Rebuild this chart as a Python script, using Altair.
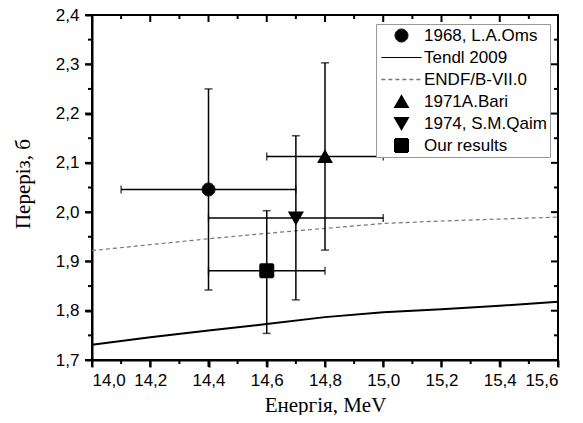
import altair as alt
import pandas as pd

# ---- data ----
energy = [14.0, 14.2, 14.4, 14.6, 14.8, 15.0, 15.2, 15.4, 15.6]
tendl = [1.731, 1.746, 1.760, 1.773, 1.787, 1.797, 1.803, 1.810, 1.818]
endf = [1.922, 1.934, 1.946, 1.957, 1.967, 1.977, 1.982, 1.986, 1.990]

exp_names = ["1968, L.A.Oms", "1971A.Bari", "1974, S.M.Qaim", "Our results"]
exp_x = [14.4, 14.8, 14.7, 14.6]
exp_xlo = [14.1, 14.6, 14.4, 14.4]
exp_xhi = [14.7, 15.0, 15.0, 14.8]
exp_y = [2.046, 2.113, 1.988, 1.881]
exp_ylo = [1.842, 1.923, 1.822, 1.754]
exp_yhi = [2.250, 2.303, 2.155, 2.003]

legend_order = ["1968, L.A.Oms", "Tendl 2009", "ENDF/B-VII.0",
                "1971A.Bari", "1974, S.M.Qaim", "Our results"]
legend_shapes = ["circle", "M-3.1,0H3.1", "M-3.1,0H3.1",
                 "triangle-up", "triangle-down", "square"]
legend_colors = ["black", "black", "#777777", "black", "black", "black"]
legend_dash = [[1, 0], [1, 0], [4, 3], [1, 0], [1, 0], [1, 0]]
legend_width = [1, 2, 1.2, 1, 1, 1]
legend_size = [169, 169, 169, 250, 250, 115]

x_major = [14.0, 14.2, 14.4, 14.6, 14.8, 15.0, 15.2, 15.4, 15.6]
x_minor = [14.1, 14.3, 14.5, 14.7, 14.9, 15.1, 15.3, 15.5]
y_major = [1.7, 1.8, 1.9, 2.0, 2.1, 2.2, 2.3, 2.4]
y_minor = [1.75, 1.85, 1.95, 2.05, 2.15, 2.25, 2.35]
x_lim = [14.0, 15.6]
y_lim = [1.7, 2.4]

W, H = 466, 345

model_tendl = pd.DataFrame({"x": energy, "y": tendl})
model_endf = pd.DataFrame({"x": energy, "y": endf})
exp_df = pd.DataFrame({"series": exp_names, "x": exp_x, "xlo": exp_xlo,
                       "xhi": exp_xhi, "y": exp_y, "ylo": exp_ylo, "yhi": exp_yhi})

xs = alt.Scale(domain=x_lim, nice=False, zero=False)
ys = alt.Scale(domain=y_lim, nice=False, zero=False)

LABEL_FONT = "Liberation Sans"
TITLE_FONT = "Liberation Serif"
COMMA = "replace(format(datum.value, '.1f'), '.', ',')"

x_main = alt.Axis(values=x_major, ticks=True, tickSize=7, tickWidth=2, tickColor="black",
                  domainColor="black", domainWidth=2, grid=False,
                  labelExpr=COMMA,
                  labelFont=LABEL_FONT, labelFontSize=17, labelColor="black",
                  labelPadding=5, labelOverlap=False,
                  title="Енергія, MeV", titleFont=TITLE_FONT, titleFontSize=21,
                  titleFontWeight="normal", titleColor="black",
                  titleX=W / 2, titleY=51, titleBaseline="alphabetic", titleAlign="center")
y_main = alt.Axis(values=y_major, ticks=True, tickSize=7, tickWidth=2, tickColor="black",
                  domainColor="black", domainWidth=2, grid=False,
                  labelExpr=COMMA,
                  labelFont=LABEL_FONT, labelFontSize=17, labelColor="black",
                  labelPadding=6, labelOverlap=False,
                  title="Переріз, б", titleFont=TITLE_FONT, titleFontSize=21,
                  titleFontWeight="normal", titleColor="black", titleAngle=270,
                  titleX=-63, titleY=H / 2 - 4, titleBaseline="alphabetic", titleAlign="center")

PX_Y = (y_lim[1] - y_lim[0]) / H   # data units per pixel
PX_X = (x_lim[1] - x_lim[0]) / W


def x_tick_marks(values, at, length_px):
    # small vertical tick rules at a horizontal frame edge, extending downward
    return alt.Chart(pd.DataFrame({"v": values})).transform_calculate(
        e=f"{at}", e2=f"{at - length_px * PX_Y}"
    ).mark_rule(color="black", strokeWidth=2).encode(
        x=alt.X("v:Q", scale=xs, axis=None),
        y=alt.Y("e:Q", scale=ys, axis=None),
        y2="e2:Q",
    )


def y_tick_marks(values, at, length_px):
    # small horizontal tick rules at a vertical frame edge, extending leftward
    return alt.Chart(pd.DataFrame({"v": values})).transform_calculate(
        e=f"{at}", e2=f"{at - length_px * PX_X}"
    ).mark_rule(color="black", strokeWidth=2).encode(
        y=alt.Y("v:Q", scale=ys, axis=None),
        x=alt.X("e:Q", scale=xs, axis=None),
        x2="e2:Q",
    )


tick_layers = [
    x_tick_marks(x_major, y_lim[0], 7), x_tick_marks(x_minor, y_lim[0], 4),
    x_tick_marks(x_major, y_lim[1], 7), x_tick_marks(x_minor, y_lim[1], 4),
    y_tick_marks(y_major, x_lim[0], 7), y_tick_marks(y_minor, x_lim[0], 4),
    y_tick_marks(y_major, x_lim[1], 7), y_tick_marks(y_minor, x_lim[1], 4),
]

tendl_line = alt.Chart(model_tendl).mark_line(color="black", strokeWidth=2).encode(
    x=alt.X("x:Q", scale=xs, axis=x_main),
    y=alt.Y("y:Q", scale=ys, axis=y_main),
)
endf_line = alt.Chart(model_endf).mark_line(color="#777777", strokeWidth=1.2,
                                           strokeDash=[4, 3]).encode(
    x=alt.X("x:Q", scale=xs, axis=None),
    y=alt.Y("y:Q", scale=ys, axis=None),
)

xerr = alt.Chart(exp_df).mark_errorbar(ticks={"size": 8}, thickness=1.5, color="black").encode(
    x=alt.X("xlo:Q", scale=xs, axis=None),
    x2="xhi:Q",
    y=alt.Y("y:Q", scale=ys, axis=None),
)
yerr = alt.Chart(exp_df).mark_errorbar(ticks={"size": 8}, thickness=1.5, color="black").encode(
    y=alt.Y("ylo:Q", scale=ys, axis=None),
    y2="yhi:Q",
    x=alt.X("x:Q", scale=xs, axis=None),
)

points = alt.Chart(exp_df).mark_point(filled=True, opacity=1).encode(
    x=alt.X("x:Q", scale=xs, axis=None),
    y=alt.Y("y:Q", scale=ys, axis=None),
    shape=alt.Shape("series:N", scale=alt.Scale(domain=legend_order, range=legend_shapes), title=None),
    color=alt.Color("series:N", scale=alt.Scale(domain=legend_order, range=legend_colors), title=None),
    stroke=alt.Stroke("series:N", scale=alt.Scale(domain=legend_order, range=legend_colors), title=None),
    strokeDash=alt.StrokeDash("series:N", scale=alt.Scale(domain=legend_order, range=legend_dash), title=None),
    strokeWidth=alt.StrokeWidth("series:N", scale=alt.Scale(domain=legend_order, range=legend_width), title=None),
    size=alt.Size("series:N", scale=alt.Scale(domain=legend_order, range=legend_size), title=None),
)

chart = alt.layer(tendl_line, endf_line, *tick_layers, xerr, yerr, points).resolve_axis(
    x="independent", y="independent"
).properties(
    width=W, height=H,
    padding={"left": 84, "top": 7, "right": 17, "bottom": 55},
    autosize=alt.AutoSizeParams(type="none"),
).configure_view(
    stroke="black", strokeWidth=2
).configure_legend(
    orient="none", legendX=284, legendY=9, padding=3, rowPadding=4, clipHeight=17,
    labelFont=LABEL_FONT, labelFontSize=17, labelColor="black",
    strokeColor="#999999", fillColor="white",
    symbolOffset=14, labelOffset=14,
)

chart.save("out.html", embed_options={"renderer": "svg", "actions": False})
